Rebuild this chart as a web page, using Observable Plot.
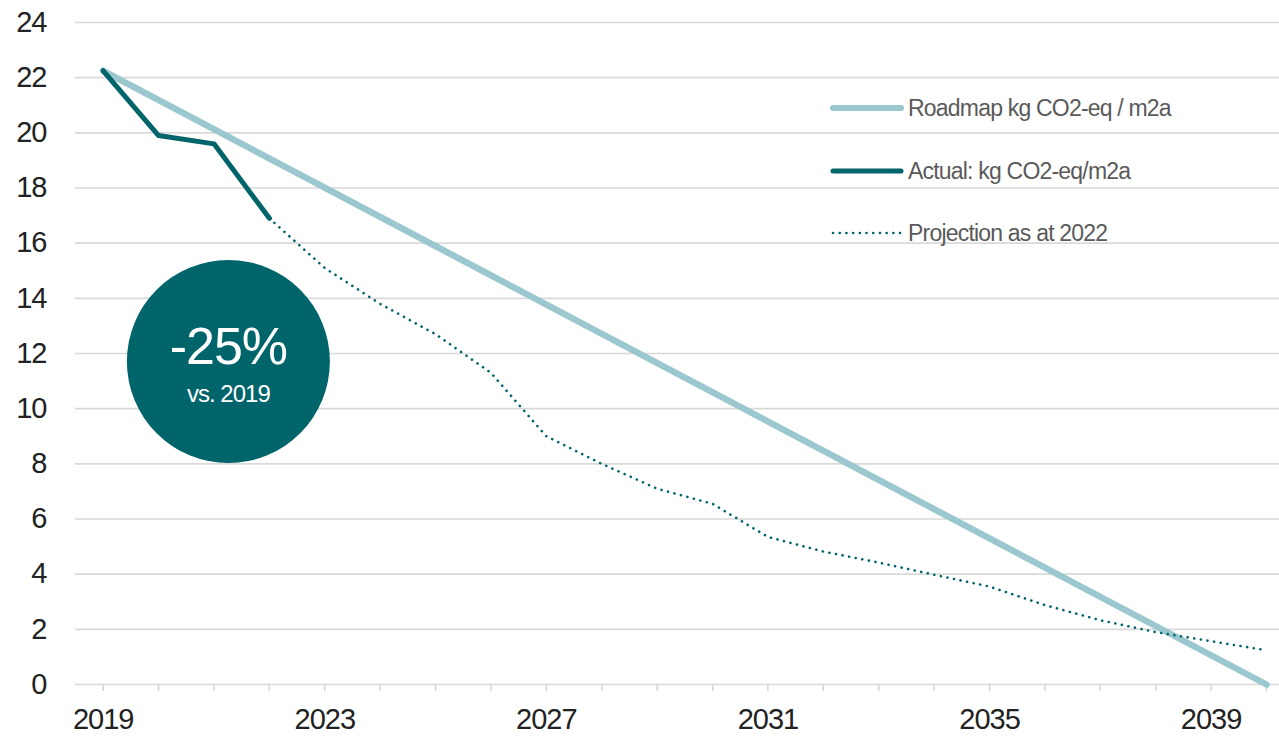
<!DOCTYPE html>
<html>
<head>
<meta charset="utf-8">
<script src="https://cdn.jsdelivr.net/npm/d3@7"></script>
<script src="https://cdn.jsdelivr.net/npm/@observablehq/plot@0.6"></script>
<style>
  html, body { margin: 0; padding: 0; background: #fff; }
  #wrap { position: relative; width: 1279px; height: 736px; }
  #wrap svg text { letter-spacing: -1px; }
  .legend { position: absolute; left: 829px; top: 0; font-family: "Liberation Sans", Arial, sans-serif; font-size: 23px; color: #5a5a5a; letter-spacing: -0.8px; }
  .legend .item { position: absolute; left: 0; white-space: nowrap; display: flex; align-items: center; height: 30px; }
  .legend svg { margin-right: 1px; }
</style>
</head>
<body>
<div id="wrap"></div>
<script>
// ---- data ----
const roadmapYears = [2019, 2040];
const roadmapValues = [22.25, 0];

const actualYears = [2019, 2020, 2021, 2022];
const actualValues = [22.25, 19.9, 19.6, 16.9];

const projectionYears = [2022, 2023, 2024, 2025, 2026, 2027, 2028, 2029, 2030, 2031, 2032, 2033, 2034, 2035, 2036, 2037, 2038, 2039, 2040];
const projectionValues = [16.9, 15.1, 13.8, 12.7, 11.3, 9.0, 8.0, 7.1, 6.55, 5.35, 4.82, 4.42, 3.98, 3.55, 2.88, 2.33, 1.9, 1.57, 1.24];

const yTicks = [0, 2, 4, 6, 8, 10, 12, 14, 16, 18, 20, 22, 24];
const xTickYears = [2019, 2020, 2021, 2022, 2023, 2024, 2025, 2026, 2027, 2028, 2029, 2030, 2031, 2032, 2033, 2034, 2035, 2036, 2037, 2038, 2039, 2040];
const xLabelYears = [2019, 2023, 2027, 2031, 2035, 2039];

const badge = {year: 2021.26, value: 11.71, big: "-25%", small: "vs. 2019"};

const legendItems = [
  {label: "Roadmap kg CO2-eq / m2a", color: "#9BC8CE", width: 6, dash: null},
  {label: "Actual: kg CO2-eq/m2a", color: "#00656B", width: 5, dash: null},
  {label: "Projection as at 2022", color: "#00656B", width: 2.6, dash: "0.1 6.6"}
];

const roadmap = roadmapYears.map((x, i) => ({x, y: roadmapValues[i]}));
const actual = actualYears.map((x, i) => ({x, y: actualValues[i]}));
const projection = projectionYears.map((x, i) => ({x, y: projectionValues[i]}));

const dark = "#00656B";
const light = "#9BC8CE";

const chart = Plot.plot({
  width: 1279,
  height: 736,
  marginLeft: 75,
  marginRight: 0,
  marginTop: 22,
  marginBottom: 52,
  style: {fontFamily: "'Liberation Sans', Arial, sans-serif", color: "#222", background: "#fff"},
  x: {domain: [2018.5, 2040.235]},
  y: {domain: [0, 24]},
  marks: [
    Plot.gridY(yTicks, {stroke: "#d9d9d9", strokeOpacity: 1, strokeWidth: 1.6}),
    Plot.axisY(yTicks, {tickSize: 0, tickPadding: 29, fontSize: 29, label: null, fill: "#222"}),
    Plot.axisX({ticks: xTickYears, tickSize: 7, tickFormat: () => "", stroke: "#d3d3d3", strokeWidth: 1.5, label: null}),
    Plot.axisX({ticks: xLabelYears, tickSize: 0, tickPadding: 24, fontSize: 29, tickFormat: d => String(d), label: null, fill: "#222"}),
    Plot.line(roadmap, {x: "x", y: "y", stroke: light, strokeWidth: 6.5, strokeLinecap: "round"}),
    Plot.line(projection, {x: "x", y: "y", stroke: dark, strokeWidth: 2.6, strokeDasharray: "0.1 6.6", strokeLinecap: "round"}),
    Plot.line(actual, {x: "x", y: "y", stroke: dark, strokeWidth: 5, strokeLinecap: "round", strokeLinejoin: "round"}),
    Plot.dot([badge], {x: "year", y: "value", r: 101.5, fill: dark, stroke: null}),
    Plot.text([badge], {x: "year", y: "value", text: "big", fill: "#fff", fontSize: 52, dy: -14}),
    Plot.text([badge], {x: "year", y: "value", text: "small", fill: "#fff", fontSize: 24, dy: 33})
  ]
});

const wrap = document.getElementById("wrap");
wrap.appendChild(chart);

// legend overlay
const legend = document.createElement("div");
legend.className = "legend";
const legendY = [108, 171, 233];
legendItems.forEach((it, i) => {
  const row = document.createElement("div");
  row.className = "item";
  row.style.top = (legendY[i] - 15) + "px";
  const sw = d3.create("svg").attr("width", 78).attr("height", 30);
  sw.append("line").attr("x1", 4).attr("x2", 72).attr("y1", 15).attr("y2", 15)
    .attr("stroke", it.color).attr("stroke-width", it.width).attr("stroke-linecap", "round")
    .attr("stroke-dasharray", it.dash);
  row.appendChild(sw.node());
  const span = document.createElement("span");
  span.textContent = it.label;
  row.appendChild(span);
  legend.appendChild(row);
});
wrap.appendChild(legend);
</script>
</body>
</html>
